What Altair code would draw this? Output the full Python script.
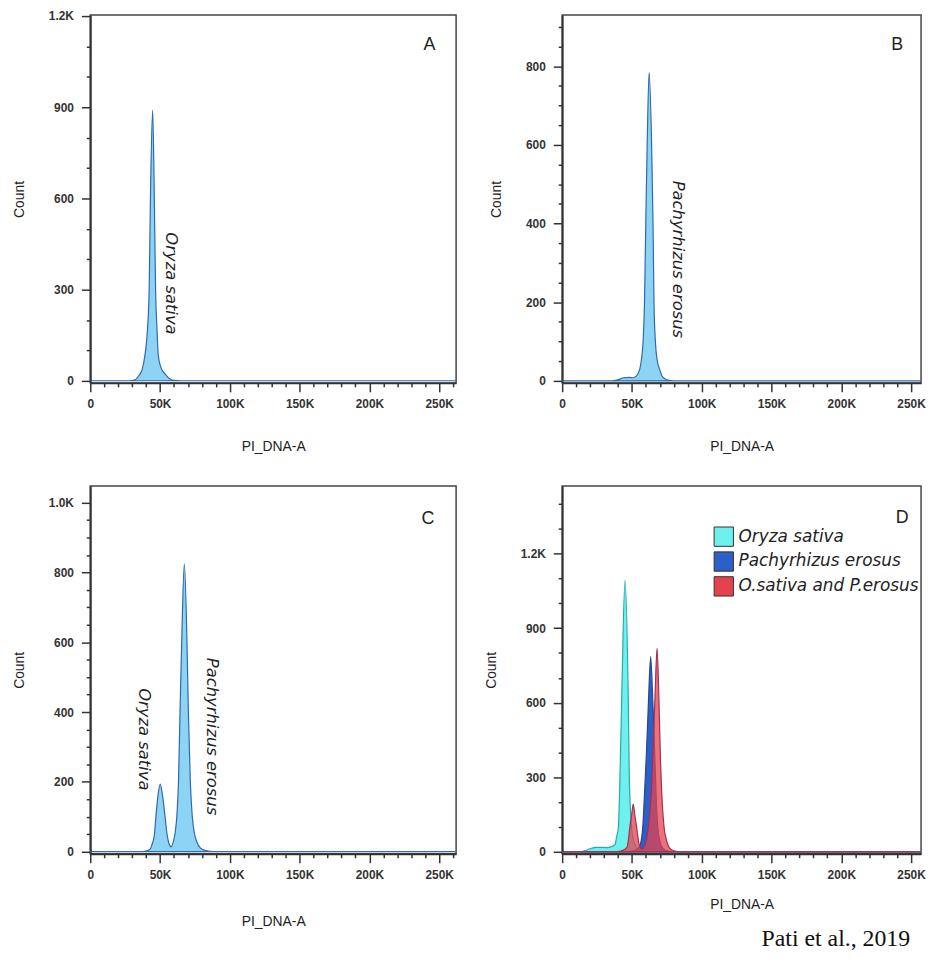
import altair as alt
import pandas as pd

# ---------------- data (x in K units of PI_DNA-A, y = Count) ----------------
X_MAX_K = 262.144          # full cytometer range (panels A, C)
X_MAX_K_RIGHT = 257.17     # right-hand panels are cut at the page edge
X_TICKS = list(range(0, 261, 10))
X_TICKS_RIGHT = list(range(0, 251, 10))

# Panel A : Oryza sativa
a_x = [0, 28, 32, 35, 37, 39.2, 41, 42.2, 43.2, 44.7, 45.8, 46.8, 47.8, 48.7, 50.5, 54, 57, 60, 65, 262]
a_y = [0, 0, 3, 18, 35, 85, 170, 300, 630, 890, 630, 300, 170, 85, 45, 20, 6, 1, 0, 0]

# Panel B : Pachyrhizus erosus
b_x = [0, 35, 40, 44, 48, 51, 53, 55.6, 57, 58, 59, 59.9, 60.9, 62.3, 64.1, 65.1, 65.8, 66.8, 68, 69.8, 72, 75, 80, 257]
b_y = [0, 0, 3, 8, 9, 8, 12, 30, 60, 100, 200, 400, 600, 784, 600, 400, 200, 100, 55, 30, 10, 3, 0, 0]

# Panel C : mixture
c_x = [0, 35, 40, 43, 44.2, 46, 47, 48.5, 50.1, 51.8, 53.6, 55, 56.3, 58, 59.6, 61, 62, 63.2, 64.3, 65.5,
       67.4, 69.3, 70.3, 71.7, 73.1, 74.5, 76.2, 79, 83, 88, 262]
c_y = [0, 0, 2, 8, 20, 50, 100, 160, 194, 160, 100, 50, 25, 14, 30, 60, 100, 200, 400, 600,
       825, 600, 400, 200, 100, 55, 30, 10, 3, 0, 0]

# Panel D : overlay
d_os_x = [0, 12, 16, 20, 24, 28, 32, 35, 37.9, 39, 40.3, 41.4, 42.6, 45, 47.4, 48.1, 49.7, 51, 52, 54, 57, 62, 257]
d_os_y = [0, 0, 4, 12, 18, 18, 17, 20, 30, 60, 100, 300, 600, 1092, 600, 300, 100, 50, 30, 12, 4, 0, 0]
d_pe_x = [0, 45, 50, 53, 55, 56.8, 58, 58.7, 60.4, 61.8, 63.4, 65, 66.3, 67.5, 68.5, 69.8, 72, 75, 80, 257]
d_pe_y = [0, 0, 3, 8, 18, 50, 120, 200, 400, 600, 785, 600, 400, 200, 100, 50, 15, 4, 0, 0]
d_mix_x = [0, 38, 42, 45, 46.6, 47.5, 48.5, 49.8, 50.9, 52, 53.3, 54.5, 55.6, 57, 58.5, 60.4, 62, 63.4,
           65.1, 66.5, 68, 69.3, 70.3, 71.7, 73, 74.6, 77, 80, 85, 257]
d_mix_y = [0, 0, 3, 10, 20, 50, 100, 150, 192, 150, 100, 50, 20, 12, 18, 50, 110, 200,
           400, 620, 819, 620, 400, 200, 100, 50, 15, 4, 0, 0]

letters = ["A", "B", "C", "D"]
letter_x = [243, 240, 242, 243.6]
letter_y = [1105, 854, 954, 1344]

y_domains = [[-7, 1203], [-5, 930], [-6, 1048], [-8, 1472]]
y_tick_step = [100, 50, 50, 100]
y_tick_major = [300, 200, 200, 300]
y_tick_top = [1200, 900, 1000, 1400]

annA_t, annA_x, annA_y = ["Oryza sativa"], [57.7], [320]
annB_t, annB_x, annB_y = ["Pachyrhizus erosus"], [83], [309]
annC_t, annC_x, annC_y = ["Oryza sativa", "Pachyrhizus erosus"], [38.5, 86.9], [322, 330]

legend_labels = ["Oryza sativa", "Pachyrhizus erosus", "O.sativa and P.erosus"]
legend_colors = ["#6ef0ee", "#2c60c8", "#e5424f"]
legend_sq_x = [115.8, 115.8, 115.8]
legend_txt_x = [126.4, 126.4, 126.4]
legend_y = [1268, 1168, 1068]

FILL = "#8dd3f5"
STROKE = "#2e6aa8"
PANEL_W = 369
PANEL_W_RIGHT = 362
PANEL_H = 371
ITALIC_FONT = "DejaVu Sans"


def enc(i, xpad, xmax, xticks):
    major = y_tick_major[i]
    xs = alt.X(
        "x:Q",
        scale=alt.Scale(domain=[0, xmax], nice=False, zero=False),
        axis=alt.Axis(
            values=xticks,
            labelExpr="datum.value % 50 === 0 ? (datum.value === 0 ? '0' : datum.value + 'K') : ''",
            tickSize={"expr": "datum.value % 50 === 0 ? 9 : 4"},
            title="PI_DNA-A",
            titlePadding=xpad,
            labelFlush=False,
            labelOverlap=False,
            labelPadding=7,
        ),
    )
    ys = alt.Y(
        "y:Q",
        scale=alt.Scale(domain=y_domains[i], nice=False, zero=False),
        axis=alt.Axis(
            values=list(range(0, y_tick_top[i] + 1, y_tick_step[i])),
            labelExpr=(
                f"datum.value % {major} === 0 ? (datum.value >= 1000 ? "
                f"format(datum.value / 1000, '.1f') + 'K' : format(datum.value, 'd')) : ''"
            ),
            tickSize={"expr": f"datum.value % {major} === 0 ? 9 : 4"},
            title="Count",
            titlePadding=22,
            labelFlush=False,
            labelOverlap=False,
            labelPadding=8,
        ),
    )
    return xs, ys


def area(xv, yv, xs, ys, fill, stroke, op=1.0):
    df = pd.DataFrame({"x": xv, "y": yv})
    return alt.Chart(df).mark_area(
        fill=fill, stroke=stroke, strokeWidth=1.2, fillOpacity=op, interpolate="monotone"
    ).encode(x=xs, y=ys)


def annot(tv, xv, yv, xs, ys):
    df = pd.DataFrame({"x": xv, "y": yv, "t": tv})
    return alt.Chart(df).mark_text(
        angle=90, font=ITALIC_FONT, fontStyle="italic", fontSize=16.5, color="#222",
        align="center", baseline="middle"
    ).encode(x=xs, y=ys, text="t:N")


def letter(i, xs, ys):
    df = pd.DataFrame({"x": [letter_x[i]], "y": [letter_y[i]], "t": [letters[i]]})
    return alt.Chart(df).mark_text(
        font="Liberation Sans", fontSize=18, color="#222", align="center", baseline="middle"
    ).encode(x=xs, y=ys, text="t:N")


# Panel A
xs, ys = enc(0, 30, X_MAX_K, X_TICKS)
pA = alt.layer(
    area(a_x, a_y, xs, ys, FILL, STROKE),
    annot(annA_t, annA_x, annA_y, xs, ys),
    letter(0, xs, ys),
).properties(width=PANEL_W, height=PANEL_H)

# Panel B
xs, ys = enc(1, 30, X_MAX_K_RIGHT, X_TICKS_RIGHT)
pB = alt.layer(
    area(b_x, b_y, xs, ys, FILL, STROKE),
    annot(annB_t, annB_x, annB_y, xs, ys),
    letter(1, xs, ys),
).properties(width=PANEL_W_RIGHT, height=PANEL_H)

# Panel C
xs, ys = enc(2, 34, X_MAX_K, X_TICKS)
pC = alt.layer(
    area(c_x, c_y, xs, ys, FILL, STROKE),
    annot(annC_t, annC_x, annC_y, xs, ys),
    letter(2, xs, ys),
).properties(width=PANEL_W, height=PANEL_H)

# Panel D
xs, ys = enc(3, 17, X_MAX_K_RIGHT, X_TICKS_RIGHT)
leg_sq = alt.Chart(pd.DataFrame({"x": legend_sq_x, "y": legend_y, "c": legend_colors})).mark_square(
    size=380, filled=True, stroke="#333", strokeWidth=1, opacity=1
).encode(x=xs, y=ys, color=alt.Color("c:N", scale=None))
leg_tx = alt.Chart(pd.DataFrame({"x": legend_txt_x, "y": legend_y, "t": legend_labels})).mark_text(
    align="left", baseline="middle", font=ITALIC_FONT, fontStyle="italic", fontSize=17, color="#222"
).encode(x=xs, y=ys, text="t:N")
pD = alt.layer(
    area(d_os_x, d_os_y, xs, ys, "#6ef0ee", "#2aa7b0"),
    area(d_pe_x, d_pe_y, xs, ys, "#2c60c8", "#27488f"),
    area(d_mix_x, d_mix_y, xs, ys, "#e5424f", "#a33050", op=0.75),
    leg_sq,
    leg_tx,
    letter(3, xs, ys),
).properties(width=PANEL_W_RIGHT, height=PANEL_H)

row1 = alt.hconcat(pA, pB, spacing=107, bounds="flush")
row2 = alt.hconcat(pC, pD, spacing=107, bounds="flush")

chart = alt.vconcat(row1, row2, spacing=31).properties(
    title=alt.TitleParams(
        text="Pati et al., 2019", orient="bottom", anchor="end",
        font="Liberation Serif", fontSize=24, fontWeight="normal", color="#111",
        offset=-2, dx=-16,
    ),
    padding={"left": 3, "top": -3, "right": 0, "bottom": 4},
).configure_view(
    stroke="#444", strokeWidth=1.5
).configure_axis(
    labelFont="Liberation Sans", labelFontSize=12, labelFontWeight="bold", labelColor="#333",
    titleFont="Liberation Sans", titleFontSize=14, titleFontWeight="normal", titleColor="#222",
    tickColor="#333", tickWidth=1.5, domainColor="#333", domainWidth=2, grid=False,
)

chart.save("out.html", embed_options={"renderer": "svg", "actions": False})
